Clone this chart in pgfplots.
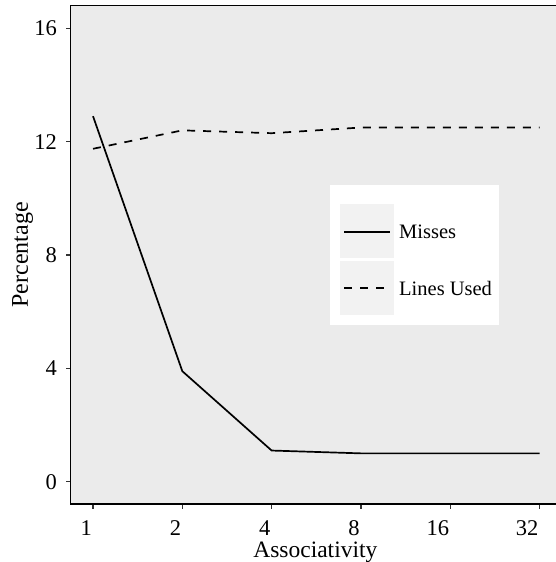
\documentclass[border=0pt]{standalone}
\usepackage{pgfplots}
\pgfplotsset{compat=1.18}
\usepackage{fontspec}
\setmainfont{Liberation Serif}

\definecolor{panelgrey}{RGB}{235,235,235}
\definecolor{keygrey}{RGB}{242,242,242}

% Miss rate and fraction of lines used versus cache associativity
\pgfplotstableread{
pos assoc misses used
0   1     12.9   11.75
1   2     3.9    12.4
2   4     1.1    12.3
3   8     1.0    12.5
4   16    1.0    12.5
5   32    1.0    12.5
}\cachedata

\begin{document}
\begin{tikzpicture}
\begin{axis}[
  scale only axis,
  width=489.3pt, height=498.3pt,
  xmin=-0.25, xmax=5.229,
  ymin=-0.787, ymax=16.8,
  axis background/.style={fill=panelgrey},
  axis line style={black, line width=1.4pt},
  xtick={0,1,2,3,4,5},
  xticklabels={1,2,4,8,16,32},
  ytick={0,4,8,12,16},
  tick align=outside,
  major tick length=4.5pt,
  tick style={black!80, line width=1.3pt},
  xtick pos=bottom, ytick pos=left,
  /pgf/number format/assume math mode=true,
  tick label style={font=\fontsize{22.5}{27}\selectfont, black},
  xticklabel style={anchor=base east, inner sep=0pt, xshift=-1pt, yshift=-26.5pt},
  yticklabel style={anchor=east, inner sep=0pt, xshift=-9pt},
  xticklabel shift=0pt, yticklabel shift=0pt,
  xlabel={Associativity},
  ylabel={Percentage},
  every axis x label/.style={at={(rel axis cs:0.5,0)}, anchor=base, yshift=-53pt,
    inner sep=0pt, font=\fontsize{23.5}{28}\selectfont},
  every axis y label/.style={at={(rel axis cs:0,0.5)}, rotate=90, anchor=base, yshift=42.7pt,
    inner sep=0pt, font=\fontsize{24}{28}\selectfont},
  clip=false,
]
\addplot[black, line width=1.7pt] table[x=pos, y=misses] {\cachedata};
\addplot[black, line width=1.7pt, dash pattern=on 8pt off 8pt] table[x=pos, y=used] {\cachedata};
\end{axis}

% legend
\fill[white] (259.3pt,179pt) rectangle (428.3pt,319pt);
\fill[keygrey] (269.3pt,246pt) rectangle (323.3pt,300pt);
\fill[keygrey] (269.3pt,189pt) rectangle (323.3pt,243.3pt);
\draw[black, line width=1.7pt] (273.3pt,272pt) -- (319.3pt,272pt);
\draw[black, line width=1.7pt, dash pattern=on 8pt off 8pt] (273.3pt,216pt) -- (319.3pt,216pt);
\node[anchor=west, inner sep=0pt, font=\fontsize{20.5}{24}\selectfont] at (328.3pt,272pt) {Misses};
\node[anchor=west, inner sep=0pt, font=\fontsize{20.5}{24}\selectfont] at (328.3pt,216pt) {Lines Used};

\pgfresetboundingbox
\useasboundingbox (-70.7pt,-58pt) rectangle (484.3pt,504pt);
\end{tikzpicture}
\end{document}
